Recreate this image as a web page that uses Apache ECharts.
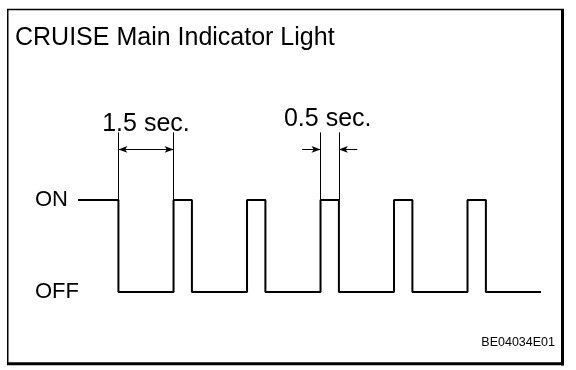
<!DOCTYPE html>
<html>
<head>
<meta charset="utf-8">
<script src="https://cdn.jsdelivr.net/npm/echarts@6/dist/echarts.min.js"></script>
<style>
  html, body { margin: 0; padding: 0; background: #ffffff; }
  #chart { width: 576px; height: 370px; }
</style>
</head>
<body>
<div id="chart"></div>
<script>
// ---- data ----
const chartTitle = 'CRUISE Main Indicator Light';
const figureCode = 'BE04034E01';
const levelLabels = ['OFF', 'ON'];
// transition times (seconds) and the level that starts at each time
const stepTimes  = [-1.1, 0, 1.5, 2, 3.5, 4, 5.5, 6, 7.5, 8, 9.5, 10, 11.5];
const stepLevels = [1, 0, 1, 0, 1, 0, 1, 0, 1, 0, 1, 0, 0];
// dimension annotations
const dimOff = { from: 0, to: 1.5, label: '1.5 sec.' };
const dimOn  = { from: 5.5, to: 6, label: '0.5 sec.' };
const extTop = 1.735;   // level reached by extension lines
const dimLevel = 1.55;  // level of dimension arrows
const arrowTail = 0.5;  // length of outside arrows (sec)

const FONT = "'Liberation Sans', Arial, sans-serif";
const chart = echarts.init(document.getElementById('chart'), null, { renderer: 'canvas' });

const waveData = stepTimes.map((t, i) => [t, stepLevels[i]]);

const thin = { color: '#000', width: 1, type: 'solid' };
function seg(a, b, s0, s1) {
  return [{ coord: a, symbol: s0 }, { coord: b, symbol: s1 }];
}
const markData = [
  // extension lines
  seg([dimOff.from, 1], [dimOff.from, extTop], 'none', 'none'),
  seg([dimOff.to, 1], [dimOff.to, extTop], 'none', 'none'),
  seg([dimOn.from, 1], [dimOn.from, extTop], 'none', 'none'),
  seg([dimOn.to, 1], [dimOn.to, extTop], 'none', 'none'),
  // 1.5 sec arrows (inside, pointing outward)
  seg([dimOff.from, dimLevel], [dimOff.to, dimLevel], 'arrow', 'arrow'),
  // 0.5 sec arrows (outside, pointing inward)
  seg([dimOn.from - arrowTail, dimLevel], [dimOn.from, dimLevel], 'none', 'arrow'),
  seg([dimOn.to + arrowTail, dimLevel], [dimOn.to, dimLevel], 'none', 'arrow')
];

const option = {
  backgroundColor: '#ffffff',
  animation: false,
  title: {
    text: chartTitle,
    left: 10,
    top: 21,
    textStyle: { fontFamily: FONT, fontSize: 25, fontWeight: 'normal', color: '#000', lineHeight: 25 }
  },
  grid: { left: 78, right: 35, top: 108, bottom: 78, containLabel: false },
  xAxis: {
    type: 'value', min: -1.1, max: 11.5,
    show: false
  },
  yAxis: {
    type: 'value', min: 0, max: 2, interval: 1,
    axisLine: { show: false }, axisTick: { show: false }, splitLine: { show: false },
    axisLabel: {
      show: true, align: 'left', margin: 43,
      fontFamily: FONT, fontSize: 22, color: '#000',
      formatter: v => levelLabels[v] || ''
    }
  },
  series: [{
    type: 'line',
    name: 'indicator',
    step: 'end',
    data: waveData,
    showSymbol: false,
    symbol: 'none',
    clip: false,
    lineStyle: { color: '#000', width: 2 },
    markLine: {
      silent: true,
      animation: false,
      symbolSize: [5, 9],
      label: { show: false },
      lineStyle: thin,
      emphasis: { disabled: true },
      data: markData
    }
  }]
};
chart.setOption(option);

const p1 = chart.convertToPixel({ gridIndex: 0 }, [(dimOff.from + dimOff.to) / 2, dimLevel]);
const p2 = chart.convertToPixel({ gridIndex: 0 }, [(dimOn.from + dimOn.to) / 2, dimLevel]);

chart.setOption({
  graphic: [
    { type: 'text', x: p1[0], y: 124, style: { text: dimOff.label, font: '25px ' + FONT, fill: '#000', align: 'center', verticalAlign: 'middle' } },
    { type: 'text', x: p2[0] - 2, y: 119, style: { text: dimOn.label, font: '25px ' + FONT, fill: '#000', align: 'center', verticalAlign: 'middle' } },
    { type: 'text', x: 555, y: 343, style: { text: figureCode, font: '12.5px ' + FONT, fill: '#000', align: 'right', verticalAlign: 'middle' } },
    // frame
    { type: 'line', shape: { x1: 7, y1: 9.5, x2: 564, y2: 9.5 }, style: { stroke: '#000', lineWidth: 1.5 } },
    { type: 'line', shape: { x1: 7.75, y1: 9, x2: 7.75, y2: 365 }, style: { stroke: '#000', lineWidth: 1.5 } },
    { type: 'line', shape: { x1: 562.5, y1: 9, x2: 562.5, y2: 365.5 }, style: { stroke: '#000', lineWidth: 3 } },
    { type: 'line', shape: { x1: 7, y1: 363.75, x2: 564, y2: 363.75 }, style: { stroke: '#000', lineWidth: 3 } }
  ]
});
</script>
</body>
</html>
